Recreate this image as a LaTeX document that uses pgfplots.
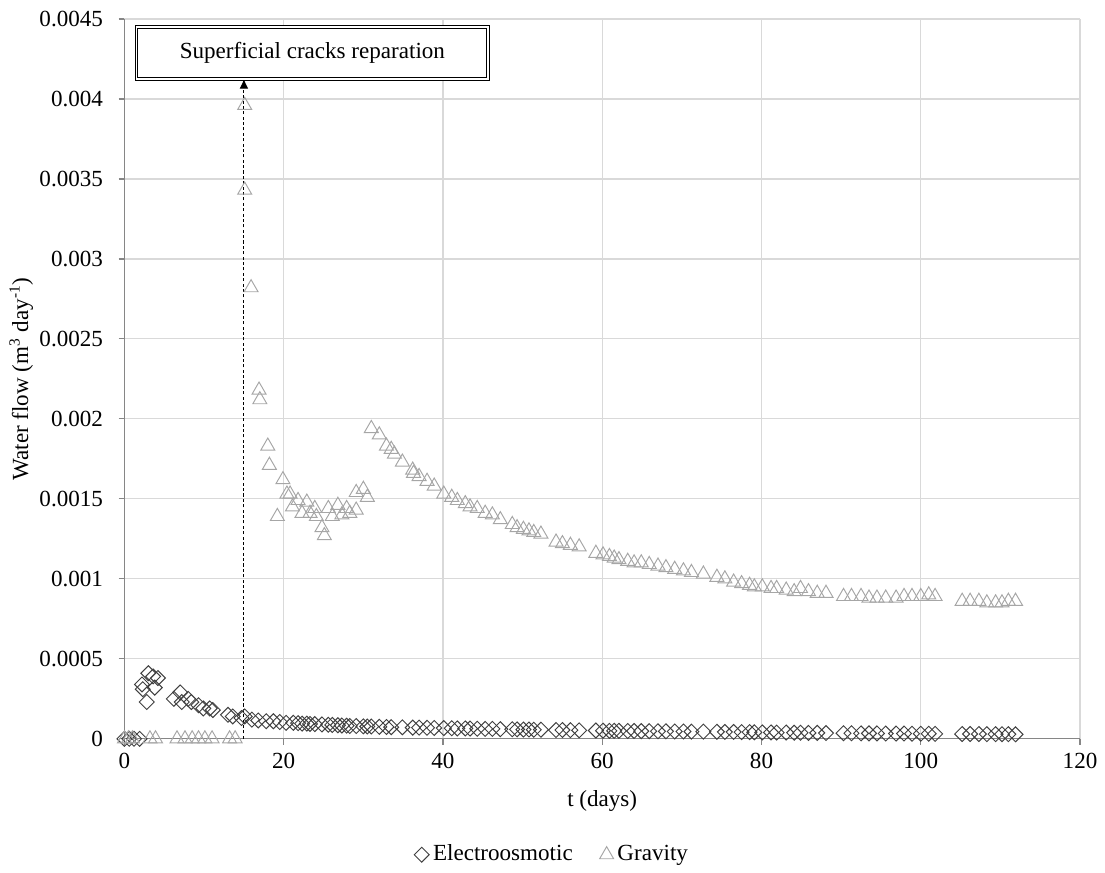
\documentclass[border=0pt]{standalone}
\usepackage{pgfplots}
\pgfplotsset{compat=1.18}
\usepackage{pgfplotstable}
\usepackage{fontspec}
\setmainfont{Liberation Serif}
\usetikzlibrary{arrows.meta}

\definecolor{gridgray}{HTML}{D9D9D9}
\definecolor{axisgray}{HTML}{868686}
\definecolor{eocolor}{HTML}{404040}
\definecolor{gvcolor}{HTML}{A6A6A6}

% electroosmotic flow (m3/day)
\pgfplotstableread{
t     q
0     0
0.6   0
1.2   0
1.9   0
2.2   0.00034
2.3   0.00031
2.8   0.00023
3.0   0.00041
3.6   0.00039
3.8   0.00032
4.2   0.00038
6.2   0.00025
7.0   0.00029
7.2   0.00023
8.0   0.00025
8.4   0.00023
9.3   0.00021
9.9   0.00019
10.7  0.00019
11.1  0.00018
13.0  0.00015
13.6  0.00014
14.7  0.00013
15.1  0.00014
16.0  0.00012
16.8  0.000115
17.8  0.00011
18.7  0.00011
19.5  0.000105
20.3  0.00010
21.2  0.00010
21.8  0.000098
22.3  0.000095
22.9  0.000095
23.3  0.000093
23.9  0.000092
24.8  0.00009
25.6  0.000088
26.1  0.000087
26.8  0.000085
27.3  0.000083
27.9  0.000082
28.3  0.00008
29.1  0.00008
30.0  0.000078
30.5  0.000077
31.0  0.000077
32.0  0.000075
32.9  0.000074
33.5  0.000073
34.9  0.000072
36.2  0.00007
37.0  0.00007
38.0  0.000069
38.9  0.000068
40.1  0.000067
41.1  0.000066
41.8  0.000065
42.8  0.000065
43.4  0.000064
44.3  0.000063
45.3  0.000062
46.2  0.000062
47.2  0.00006
48.7  0.00006
49.3  0.000059
50.1  0.000058
50.8  0.000058
51.4  0.000057
52.3  0.000057
54.2  0.000055
55.0  0.000055
56.0  0.000054
57.1  0.000053
59.2  0.000052
60.1  0.000051
60.9  0.00005
61.5  0.00005
62.1  0.00005
63.2  0.000049
64.0  0.000049
64.9  0.000048
65.9  0.000048
67.0  0.000047
68.0  0.000047
69.1  0.000046
70.2  0.000046
71.2  0.000045
72.7  0.000045
74.4  0.000044
75.4  0.000043
76.5  0.000043
77.5  0.000042
78.5  0.000042
79.1  0.000041
80.1  0.00004
81.2  0.00004
81.9  0.000039
83.1  0.000039
84.1  0.000038
84.9  0.000038
85.9  0.000037
87.0  0.000037
88.1  0.000036
90.3  0.000035
91.3  0.000035
92.5  0.000034
93.5  0.000034
94.5  0.000034
95.6  0.000033
96.9  0.000033
97.9  0.000033
98.9  0.000032
100.0 0.000032
101.0 0.000032
101.8 0.000031
105.2 0.00003
106.2 0.00003
107.3 0.00003
108.3 0.000029
109.4 0.000029
110.2 0.000029
111.0 0.000029
111.9 0.000028
}\electro

% gravity flow (m3/day)
\pgfplotstableread{
t     q
0     0
0.5   0
1.0   0
3.2   0
3.9   0
6.6   0
7.6   0
8.5   0
9.3   0
10.1  0
11.0  0
13.2  0
13.9  0
15.1  0.00396
15.1  0.00343
15.9  0.00282
16.9  0.00218
17.0  0.00212
18.0  0.00183
18.2  0.00171
19.2  0.00139
19.9  0.00162
20.4  0.00153
20.8  0.00153
21.1  0.00145
21.8  0.00149
22.3  0.00141
22.9  0.00148
23.3  0.00141
23.9  0.00144
24.1  0.00139
24.8  0.00132
25.1  0.00127
25.6  0.00144
26.1  0.00139
26.8  0.00146
27.3  0.00140
27.9  0.00144
28.3  0.00141
29.1  0.00143
29.1  0.00154
30.0  0.00156
30.5  0.00151
31.0  0.00194
32.0  0.00190
32.9  0.00183
33.5  0.00181
33.9  0.00178
34.9  0.00173
36.2  0.00168
36.3  0.00166
37.0  0.00164
38.0  0.00161
38.9  0.00158
40.1  0.00153
41.1  0.00151
41.8  0.00149
42.8  0.00147
43.4  0.00145
44.3  0.00144
45.3  0.00141
46.2  0.00140
47.2  0.00137
48.7  0.00134
49.3  0.00132
50.1  0.00131
50.8  0.00130
51.4  0.00129
52.3  0.00128
54.2  0.00123
55.0  0.00122
56.0  0.00121
57.1  0.00120
59.2  0.00116
60.1  0.00115
60.9  0.00114
61.5  0.00113
62.1  0.00112
63.2  0.00111
64.0  0.00110
64.9  0.00110
65.9  0.00109
67.0  0.00108
68.0  0.00107
69.1  0.00106
70.2  0.00105
71.2  0.00104
72.7  0.00103
74.4  0.00101
75.4  0.00100
76.5  0.00098
77.5  0.00097
78.5  0.00096
79.1  0.00095
80.1  0.00095
81.2  0.00094
81.9  0.00094
83.1  0.00093
84.1  0.00092
84.9  0.00094
85.9  0.00092
87.0  0.00091
88.1  0.00091
90.3  0.00089
91.3  0.00089
92.5  0.00089
93.5  0.00088
94.5  0.00088
95.6  0.00088
96.9  0.00088
97.9  0.00089
98.9  0.00089
100.0 0.00089
101.0 0.00090
101.8 0.00089
105.2 0.00086
106.2 0.00086
107.3 0.00086
108.3 0.00085
109.4 0.00085
110.2 0.00085
111.0 0.00086
111.9 0.00086
}\gravity

\begin{document}
\fontsize{12}{14}\selectfont
\begin{tikzpicture}
\begin{axis}[
    name=ax,
    scale only axis,
    width=497pt, height=374.4pt,
    xmin=0, xmax=120, ymin=0, ymax=0.0045,
    xtick={0,20,40,60,80,100,120},
    ytick={0,0.0005,0.001,0.0015,0.002,0.0025,0.003,0.0035,0.004,0.0045},
    scaled y ticks=false,
    yticklabel style={/pgf/number format/fixed,/pgf/number format/precision=4, xshift=-4pt},
    /pgf/number format/assume math mode=true,
    axis x line*=bottom, axis y line*=left,
    axis line style={axisgray, line width=0.6pt},
    grid=major,
    major grid style={gridgray, line width=0.6pt},
    tick style={axisgray, line width=0.6pt},
    tick align=outside, major tick length=3pt,
    xlabel={t (days)},
    ylabel={Water flow (m\textsuperscript{3} day\textsuperscript{-1})},
    xlabel style={at={(axis description cs:0.5,-0.087)}, anchor=center},
    ylabel style={at={(axis description cs:-0.108,0.5)}, anchor=center},
    clip=false,
    legend style={draw=none, fill=none, at={(0.4485,-0.161)}, anchor=center,
        legend columns=2, /tikz/every even column/.append style={column sep=12pt}},
    legend cell align=left,
]
\addplot[only marks, mark=square, mark size=2.75pt,
    mark options={rotate=45, draw=eocolor, line width=0.5pt}] table[x=t,y=q] {\electro};
\addlegendentry{Electroosmotic}
\addplot[only marks, mark=triangle, mark size=4.2pt,
    mark options={draw=gvcolor, line width=0.5pt}] table[x=t,y=q] {\gravity};
\addlegendentry{Gravity}

\draw[black, line width=0.5pt, dash pattern=on 1.6pt off 1.2pt, -{Latex[length=5pt,width=4.5pt]}]
    (axis cs:15,0) -- (axis cs:15,0.004125);
\node[draw=black, double=white, double distance=1pt, line width=0.5pt, fill=white,
    minimum width=183pt, minimum height=27pt, inner sep=0pt]
    at (axis cs:23.6,0.0042875) {Superficial cracks reparation};
\end{axis}
\pgfresetboundingbox
\path[use as bounding box] ([xshift=-64.74pt,yshift=-69.68pt]ax.south west)
    rectangle ([xshift=13pt,yshift=9.88pt]ax.north east);
\end{tikzpicture}
\end{document}
